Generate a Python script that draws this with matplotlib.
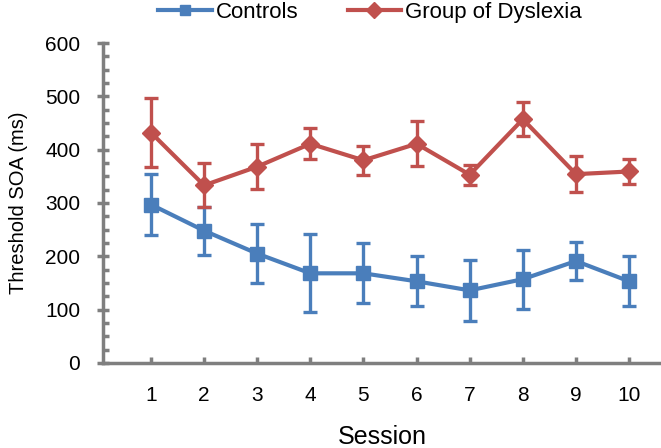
import matplotlib.pyplot as plt
from matplotlib.lines import Line2D
from matplotlib.ticker import MultipleLocator

# ==========================
# Data
# ==========================

sessions = [1, 2, 3, 4, 5, 6, 7, 8, 9, 10]

controls_mean = [297, 248, 205, 168, 168, 153, 136, 157, 191, 153]
controls_err = [58, 45, 56, 73, 56, 47, 57, 55, 36, 47]

dyslexia_mean = [432, 333, 368, 411, 380, 411, 353, 457, 354, 359]
dyslexia_err = [64, 41, 42, 29, 27, 42, 19, 32, 34, 24]

BLUE = "#4a7ebb"
RED = "#c0504d"
GRAY = "#7f7f7f"

plt.rcParams["font.family"] = ["Liberation Sans", "DejaVu Sans"]

# ==========================
# Figure
# ==========================

fig = plt.figure(figsize=(6.61, 4.48), dpi=100)
ax = fig.add_axes([0.156, 0.19, 0.844, 0.714])

ax.errorbar(sessions, controls_mean, yerr=controls_err, color=BLUE,
            marker="s", markersize=9.5, linewidth=3, elinewidth=2.4,
            capsize=4.8, capthick=2.4, clip_on=False, zorder=3)
ax.errorbar(sessions, dyslexia_mean, yerr=dyslexia_err, color=RED,
            marker="D", markersize=9, linewidth=3, elinewidth=2.4,
            capsize=4.8, capthick=2.4, clip_on=False, zorder=3)

ax.set_xlim(0.1, 10.6)
ax.set_ylim(0, 600)

ax.set_xticks(sessions)
ax.yaxis.set_major_locator(MultipleLocator(100))
ax.yaxis.set_minor_locator(MultipleLocator(25))

for side in ["top", "right"]:
    ax.spines[side].set_visible(False)
for side in ["left", "bottom"]:
    ax.spines[side].set_color(GRAY)
    ax.spines[side].set_linewidth(2.5)

ax.tick_params(axis="y", which="major", direction="inout", length=9,
               width=2.5, color=GRAY, labelsize=15, pad=12)
ax.tick_params(axis="y", which="minor", direction="in", length=4,
               width=2.5, color=GRAY)
ax.tick_params(axis="x", which="major", direction="in", length=4,
               width=2.5, color=GRAY, labelsize=15, pad=17)

ax.set_ylabel("Threshold SOA (ms)", fontsize=14.5, labelpad=12)
ax.set_xlabel("Session", fontsize=18, labelpad=14)

# ==========================
# Legend
# ==========================

handles = [
    Line2D([], [], color=BLUE, marker="s", markersize=7, linewidth=3),
    Line2D([], [], color=RED, marker="D", markersize=8, linewidth=3),
]
labels = ["Controls", "Group of Dyslexia"]

fig.legend(handles, labels, loc="upper center", bbox_to_anchor=(0.56, 1.04),
           ncol=2, frameon=False, fontsize=16, handlelength=2.4,
           columnspacing=2.2, handletextpad=0.2)

fig.savefig("out.png", dpi=100)
